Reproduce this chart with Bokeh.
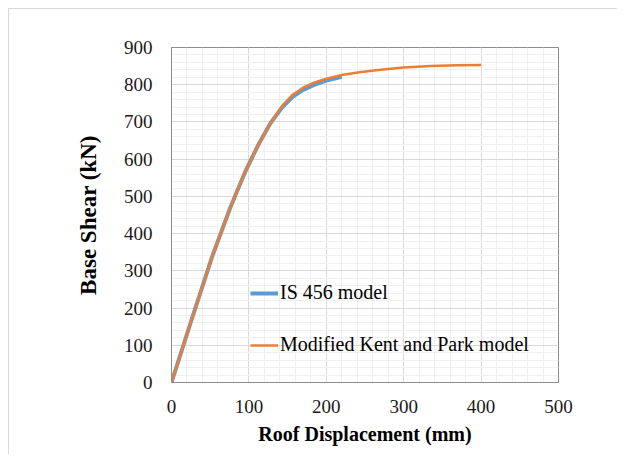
from bokeh.plotting import figure
from bokeh.models import SingleIntervalTicker, Legend, LegendItem, Range1d
from bokeh.embed import file_html
from bokeh.resources import INLINE

# Data
disp_is = [0, 28, 52, 76, 95, 112, 128, 143, 156, 170, 185, 200, 220]
shear_is = [0, 182, 335, 470, 565, 638, 697, 739, 767, 786, 800, 811, 821]

disp_kp = [0, 28, 52, 76, 95, 112, 128, 143, 156, 170, 185, 200, 220, 245, 270, 300, 335, 370, 400]
shear_kp = [0, 182, 335, 470, 565, 638, 698, 743, 772, 792, 806, 816, 826, 834, 840, 846, 850, 852, 853]

x_label = "Roof Displacement (mm)"
y_label = "Base Shear (kN)"
names = ["IS 456 model", "Modified Kent and Park model"]

FONT = "Liberation Serif"

p = figure(width=609, height=446, output_backend="svg", toolbar_location=None,
           x_range=Range1d(0, 500), y_range=Range1d(0, 900),
           min_border_left=162, min_border_top=38, min_border_right=60, min_border_bottom=73)
p.styles = {"margin-left": "8px", "margin-top": "8px",
            "border-left": "1px solid #d9d9d9", "border-top": "1px solid #d9d9d9"}

p.outline_line_color = "#8c8c8c"
p.outline_line_width = 1

for ax in (p.xaxis[0], p.yaxis[0]):
    ax.ticker = SingleIntervalTicker(interval=100, num_minor_ticks=5)
    ax.major_tick_out = 0
    ax.major_tick_in = 0
    ax.minor_tick_out = 0
    ax.minor_tick_in = 0
    ax.axis_line_color = "#8c8c8c"
    ax.major_label_text_font = FONT
    ax.major_label_text_font_size = "19px"
    ax.major_label_text_color = "#1a1a1a"
    ax.axis_label_text_font = FONT
    ax.axis_label_text_font_style = "bold"
    ax.axis_label_text_color = "#000000"

p.xaxis.axis_label = x_label
p.yaxis.axis_label = y_label
p.xaxis.axis_label_text_font_size = "20px"
p.yaxis.axis_label_text_font_size = "23px"
p.xaxis.major_label_standoff = 17
p.yaxis.major_label_standoff = 19
p.xaxis.axis_label_standoff = 7
p.yaxis.axis_label_standoff = 20

p.xgrid.grid_line_color = "#d9d9d9"
p.ygrid.grid_line_color = "#d9d9d9"
p.xgrid.minor_grid_line_color = "#f0f0f0"
p.ygrid.minor_grid_line_color = "#f0f0f0"

r1 = p.line(disp_is, shear_is, line_color="#5B9BD5", line_width=4)
r2 = p.line(disp_kp, shear_kp, line_color="#ED7D31", line_width=2.5)

legend = Legend(items=[LegendItem(label=names[0], renderers=[r1]),
                       LegendItem(label=names[1], renderers=[r2])],
                location=(79, 26), orientation="vertical")
legend.background_fill_alpha = 0
legend.border_line_alpha = 0
legend.padding = 0
legend.margin = 0
legend.glyph_width = 28
legend.glyph_height = 20
legend.label_height = 20
legend.spacing = 29
legend.label_standoff = 2
legend.label_text_font = FONT
legend.label_text_font_size = "20px"
legend.label_text_color = "#000000"
p.add_layout(legend, "center")

open("out.html", "w").write(file_html(p, INLINE))
